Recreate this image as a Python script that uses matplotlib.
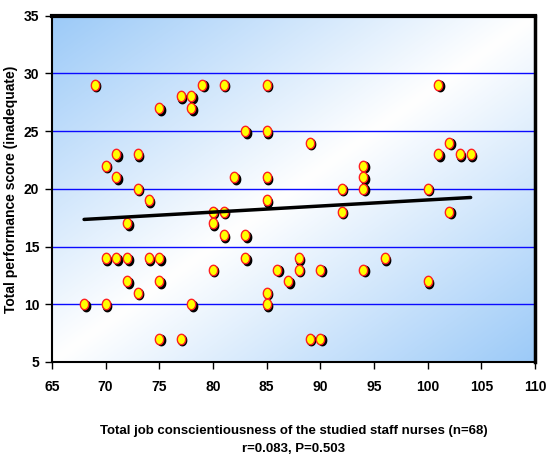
import numpy as np
import matplotlib
matplotlib.use('Agg')
from matplotlib import pyplot as plt
from matplotlib.path import Path
from matplotlib import transforms
from matplotlib.colors import LinearSegmentedColormap

plt.rcParams['font.family'] = ['Liberation Sans', 'DejaVu Sans']

# data
conscientiousness = [68, 69, 70, 70, 70, 71, 71, 71, 72, 72, 72, 73, 73, 73, 74, 74,
                     75, 75, 75, 75, 77, 77, 78, 78, 78, 79, 80, 80, 80, 81, 81, 81,
                     82, 83, 83, 83, 85, 85, 85, 85, 85, 85, 86, 87, 88, 88, 89, 89,
                     90, 90, 92, 92, 94, 94, 94, 94, 96, 100, 100, 101, 101, 102, 102,
                     103, 104]
performance = [10, 29, 22, 14, 10, 23, 21, 14, 17, 14, 12, 23, 20, 11, 19, 14,
               27, 14, 12, 7, 28, 7, 28, 27, 10, 29, 18, 17, 13, 29, 18, 16,
               21, 25, 16, 14, 29, 25, 21, 19, 11, 10, 13, 12, 14, 13, 24, 7,
               13, 7, 20, 18, 22, 21, 20, 13, 14, 20, 12, 29, 23, 24, 18,
               23, 23]
trend_x = [68, 104]
trend_y = [17.35, 19.25]

fig = plt.figure(figsize=(5.46, 4.68), dpi=100)
ax = fig.add_axes([0.095, 0.2265, 0.885, 0.74])

# diagonal blue-white-blue background
u, v = np.meshgrid(np.linspace(0, 1, 300), np.linspace(0, 1, 300))
t = (u + v) / 2
cmap = LinearSegmentedColormap.from_list('bg', ['#9ccaf8', '#ffffff', '#9ccaf8'])
ax.imshow(t, cmap=cmap, extent=[65, 110, 5, 35], aspect='auto', zorder=0,
          interpolation='bilinear')

ax.set_xlim(65, 110)
ax.set_ylim(5, 35)
ax.set_xticks(range(65, 111, 5))
ax.set_yticks(range(5, 36, 5))
for yy in range(10, 35, 5):
    ax.axhline(yy, color='#0a0aff', lw=1.0, zorder=1)

# ellipse marker
th = np.linspace(0, 2 * np.pi, 40)
ell = Path(np.column_stack([0.8 * np.cos(th), np.sin(th)]), closed=True)

shadow = transforms.offset_copy(ax.transData, fig=fig, x=1.5, y=-1.5, units='dots')
ax.plot(conscientiousness, performance, ls='none', marker=ell, ms=7.5,
        mfc='black', mec='black', transform=shadow, zorder=3)
ax.plot(conscientiousness, performance, ls='none', marker=ell, ms=7.5,
        mfc='#ffff00', mec='#ff2020', mew=1.0, zorder=4)

ax.plot(trend_x, trend_y, color='black', lw=2.5, zorder=5, solid_capstyle='round')

for s in ax.spines.values():
    s.set_color('black')
    s.set_linewidth(1.5)
ax.spines['top'].set_linewidth(3)
ax.spines['right'].set_linewidth(2.5)

ax.tick_params(direction='out', length=5, width=1, labelsize=10, pad=8)
for lab in ax.get_xticklabels() + ax.get_yticklabels():
    lab.set_fontweight('bold')
ax.tick_params(axis='y', pad=4)

ax.set_ylabel('Total performance score (inadequate)', fontsize=10, fontweight='bold')
ax.set_xlabel('Total job conscientiousness of the studied staff nurses (n=68)\nr=0.083, P=0.503',
              fontsize=9.5, fontweight='bold', labelpad=22, linespacing=1.7)

fig.savefig('out.png', dpi=100)
